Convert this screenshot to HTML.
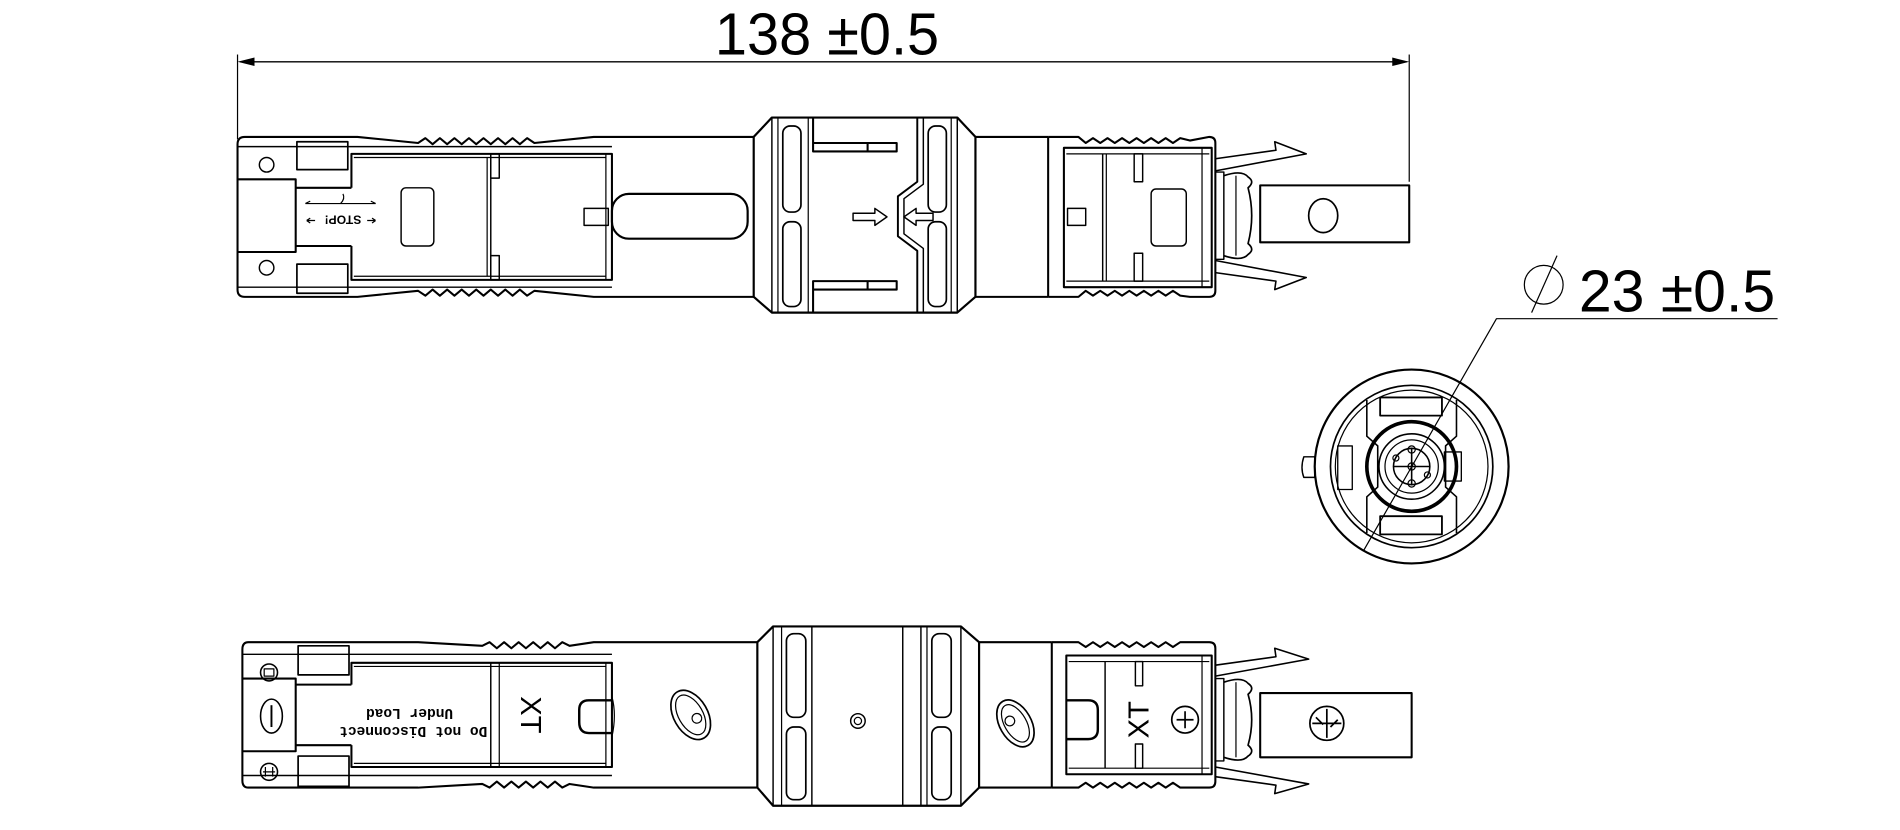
<!DOCTYPE html>
<html><head><meta charset="utf-8"><style>
html,body{margin:0;padding:0;background:#fff;}
svg{display:block;}
</style></head><body>
<svg width="1900" height="830" viewBox="0 0 1568 685" xmlns="http://www.w3.org/2000/svg">
<g fill="none" stroke="#000" stroke-width="1.7" stroke-linejoin="round">

<line x1="196" y1="45" x2="196" y2="115" stroke-width="1"/>
<line x1="1163" y1="45" x2="1163" y2="150" stroke-width="1"/>
<line x1="198" y1="51" x2="1161" y2="51" stroke-width="1.2"/>
<path d="M196,51 L210,47.5 L210,54.5 Z M1163,51 L1149,47.5 L1149,54.5 Z" fill="#000" stroke="none"/>

<!-- TOP VIEW -->
<path d="M622,113 H490 L441,118 L435,114 L429,119 L423,114 L417,119 L411,114 L405,119 L399,114 L393,119 L387,114 L381,119 L375,114 L369,119 L363,114 L357,119 L351,114 L345,118 L295,113 H202 Q196,113 196,119 V239 Q196,245 202,245 H295 L345,240 L351,244 L357,239 L363,244 L369,239 L375,244 L381,239 L387,244 L393,239 L399,244 L405,239 L411,244 L417,239 L423,244 L429,239 L435,244 L441,240 L490,245 H622"/>
<line x1="196" y1="121" x2="505" y2="121" stroke-width="1.2"/>
<line x1="196" y1="237" x2="505" y2="237" stroke-width="1.2"/>
<path d="M290,155 V127 H505 V231 H290 V203"/>
<line x1="292" y1="130" x2="500" y2="130" stroke-width="1"/>
<line x1="292" y1="228" x2="500" y2="228" stroke-width="1"/>
<line x1="500" y1="127" x2="500" y2="231" stroke-width="1"/>
<line x1="405" y1="127" x2="405" y2="231" stroke-width="1.2"/>
<line x1="402" y1="130" x2="402" y2="228" stroke-width="1"/>
<rect x="405" y="127" width="7" height="20" stroke-width="1.2"/>
<rect x="405" y="211" width="7" height="20" stroke-width="1.2"/>
<path d="M196,148 H244 V208 H196"/>
<path d="M244,155 H290 M244,203 H290"/>
<rect x="245" y="117" width="42" height="23" stroke-width="1.4"/>
<rect x="245" y="218" width="42" height="24" stroke-width="1.4"/>
<circle cx="220" cy="136" r="6" stroke-width="1.2"/>
<circle cx="220" cy="221" r="6" stroke-width="1.2"/>
<rect x="331" y="155" width="27" height="48" rx="4" stroke-width="1.2"/>
<rect x="482" y="172" width="20" height="14" stroke-width="1.2"/>
<rect x="505" y="160" width="112" height="37" rx="14" stroke-width="1.8"/>
<g stroke-width="1">
<path d="M252,168 H310 M252,168 l4,-2 M310,168 l-4,-2 M281,168 q4,-4 2,-8"/>
<path d="M253,182 h7 M253,182 l3,-2 M253,182 l3,2 M303,182 h7 M310,182 l-3,-2 M310,182 l-3,2"/>
</g>
<text x="0" y="0" transform="translate(283,178) rotate(180)" font-family="Liberation Sans, sans-serif" font-size="10" font-weight="bold" fill="#000" stroke="none" text-anchor="middle">STOP!</text>

<path d="M622,113 L637,97 H790 L805,113 V245 L790,258 H637 L622,245 Z" stroke-width="1.8"/>
<line x1="637" y1="97" x2="637" y2="258" stroke-width="1.2"/>
<line x1="790" y1="97" x2="790" y2="258" stroke-width="1.2"/>
<line x1="667" y1="97" x2="667" y2="258" stroke-width="1"/>
<line x1="642" y1="97" x2="642" y2="258" stroke-width="1"/>
<line x1="785" y1="97" x2="785" y2="258" stroke-width="1"/>
<rect x="646" y="104" width="15" height="71" rx="6" stroke-width="1.4"/>
<rect x="646" y="183" width="15" height="70" rx="6" stroke-width="1.4"/>
<rect x="766" y="104" width="15" height="71" rx="6" stroke-width="1.4"/>
<rect x="766" y="183" width="15" height="70" rx="6" stroke-width="1.4"/>
<path d="M757,97 V150 L741,162 V195 L757,207 V258" stroke-width="1.6"/>
<path d="M762,97 V152 L746,164 V193 L762,205 V258" stroke-width="1.2"/>
<path d="M671,97 V125 H740 V118 H716 V125 M671,118 H716"/>
<path d="M671,258 V232 H740 V239 H716 V232 M671,239 H716"/>
<path d="M704,176 H722 V172 L732,179 L722,186 V182 H704 Z" stroke-width="1.2"/>
<path d="M770,176 H756 V172 L746,179 L756,186 V182 H770 Z" stroke-width="1.2"/>

<path d="M805,113 H865 M805,245 H865"/>
<line x1="865" y1="113" x2="865" y2="245"/>
<path d="M865,113 H890 L896,118 L902,114 L908,118 L914,114 L920,118 L926,114 L932,118 L938,114 L944,118 L950,114 L956,118 L962,114 L968,118 L974,114 L982,116 L998,113 Q1003,113 1003,118 V240 Q1003,245 998,245 H982 L974,244 L968,240 L962,244 L956,240 L950,244 L944,240 L938,244 L932,240 L926,244 L920,240 L914,244 L908,240 L902,244 L896,240 L890,245 H865"/>
<rect x="878" y="122" width="122" height="115"/>
<line x1="880" y1="127" x2="998" y2="127" stroke-width="1"/>
<line x1="880" y1="232" x2="998" y2="232" stroke-width="1"/>
<line x1="992" y1="122" x2="992" y2="237" stroke-width="1"/>
<line x1="910" y1="127" x2="910" y2="232" stroke-width="1.2"/>
<line x1="913" y1="127" x2="913" y2="232" stroke-width="1"/>
<rect x="936" y="127" width="7" height="23" stroke-width="1.2"/>
<rect x="936" y="209" width="7" height="23" stroke-width="1.2"/>
<rect x="950" y="156" width="29" height="47" rx="4" stroke-width="1.2"/>
<rect x="881" y="172" width="15" height="14" stroke-width="1.2"/>
<path d="M1003,142 H1010 V214 H1003" stroke-width="1.2"/>
<path d="M1010,145 Q1025,140 1030,146 Q1036,150 1030,155 Q1036,178 1030,201 Q1036,206 1030,210 Q1025,216 1010,211" stroke-width="1.4"/>
<line x1="1020" y1="145" x2="1020" y2="211" stroke-width="1"/>
<rect x="1040" y="153" width="123" height="47"/>
<ellipse cx="1092" cy="178" rx="12" ry="14" stroke-width="1.4"/>
<path d="M1003,131 L1053,124 L1052,117 L1078,127 L1003,141" stroke-width="1.3"/>
<path d="M1003,225 L1053,232 L1052,239 L1078,229 L1003,215" stroke-width="1.3"/>

<!-- END VIEW -->
<circle cx="1165" cy="385" r="80" stroke-width="1.8"/>
<circle cx="1165" cy="385" r="67" stroke-width="1.4"/>
<circle cx="1165" cy="385" r="63" stroke-width="1"/>
<path d="M1128,330 V360 L1137,368 V402 L1128,410 V440" stroke-width="1.3"/>
<path d="M1202,330 V360 L1193,368 V402 L1202,410 V440" stroke-width="1.3"/>
<rect x="1139" y="328" width="51" height="15" stroke-width="1.5"/>
<rect x="1139" y="426" width="51" height="15" stroke-width="1.5"/>
<rect x="1104" y="368" width="12" height="36" stroke-width="1.1"/>
<rect x="1192" y="373" width="14" height="24" stroke-width="1.1"/>
<path d="M1076,377 h9 v17 h-9 q-3,-8 0,-17 Z" stroke-width="1.2"/>
<circle cx="1165" cy="385" r="37" stroke-width="3"/>
<circle cx="1165" cy="385" r="27" stroke-width="1.3"/>
<circle cx="1165" cy="385" r="22" stroke-width="1"/>
<circle cx="1165" cy="385" r="15" stroke-width="1.3"/>
<path d="M1150,385 H1180 M1165,370 V400" stroke-width="1.3"/>
<circle cx="1165" cy="385" r="3" stroke-width="1"/>
<circle cx="1165" cy="371" r="3" stroke-width="1"/>
<circle cx="1165" cy="399" r="3" stroke-width="1"/>
<circle cx="1152" cy="378" r="2.5" stroke-width="1"/>
<circle cx="1178" cy="392" r="2.5" stroke-width="1"/>
<path d="M1125,455 L1235,263 H1467" stroke-width="1"/>
<circle cx="1274" cy="235" r="16" stroke-width="1"/>
<line x1="1285" y1="211" x2="1264" y2="258" stroke-width="1"/>
<text x="1303" y="257" font-family="Liberation Sans, sans-serif" font-size="49" fill="#000" stroke="none" textLength="162" lengthAdjust="spacingAndGlyphs">23 ±0.5</text>
<text x="590" y="45" font-family="Liberation Sans, sans-serif" font-size="49" fill="#000" stroke="none" textLength="185" lengthAdjust="spacingAndGlyphs">138 ±0.5</text>

<!-- BOTTOM VIEW -->
<path d="M625,530 H490 L470,533 L464,530 L458,535 L452,530 L446,535 L440,530 L434,535 L428,530 L422,535 L416,530 L410,535 L404,530 L398,533 L345,530 H205 Q200,530 200,536 V644 Q200,650 205,650 H345 L398,647 L404,650 L410,645 L416,650 L422,645 L428,650 L434,645 L440,650 L446,645 L452,650 L458,645 L464,650 L470,647 L490,650 H625"/>
<line x1="200" y1="540" x2="505" y2="540" stroke-width="1.2"/>
<line x1="200" y1="640" x2="505" y2="640" stroke-width="1.2"/>
<path d="M290,565 V547 H505 V633 H290 V615"/>
<line x1="292" y1="550" x2="500" y2="550" stroke-width="1"/>
<line x1="292" y1="630" x2="500" y2="630" stroke-width="1"/>
<line x1="500" y1="547" x2="500" y2="633" stroke-width="1"/>
<line x1="405" y1="547" x2="405" y2="633" stroke-width="1.2"/>
<line x1="412" y1="547" x2="412" y2="633" stroke-width="1"/>
<path d="M200,560 H244 V620 H200 M244,565 H290 M244,615 H290"/>
<rect x="246" y="533" width="42" height="24" stroke-width="1.4"/>
<rect x="246" y="624" width="42" height="25" stroke-width="1.4"/>
<circle cx="222" cy="555" r="7" stroke-width="1.3"/>
<path d="M218,552 h8 v6 h-8 z" stroke-width="1"/>
<ellipse cx="224" cy="591" rx="9" ry="14" stroke-width="1.3"/>
<line x1="224" y1="582" x2="224" y2="600" stroke-width="1.6"/>
<circle cx="222" cy="637" r="7" stroke-width="1.3"/>
<path d="M217,637 h10 M219,633 v8 M225,633 v8" stroke-width="1"/>
<g font-family="Liberation Mono, monospace" font-size="12" font-weight="bold" fill="#000" stroke="none" text-anchor="middle">
<text transform="translate(341,600) rotate(180)">Do not Disconnect</text>
<text transform="translate(338,585) rotate(180)">Under  Load</text>
</g>
<text transform="translate(430,590) rotate(90)" font-family="Liberation Sans, sans-serif" font-size="24" fill="#000" stroke="none" text-anchor="middle">XT</text>
<path d="M505,578 H486 Q478,578 478,586 V596 Q478,605 486,605 H505" stroke-width="2"/>
<path d="M505,575 q4,15 0,33" stroke-width="1"/>
<g transform="translate(570,590) rotate(-30)">
<ellipse cx="0" cy="0" rx="14" ry="22" stroke-width="1.4"/>
<ellipse cx="0" cy="0" rx="10" ry="18" stroke-width="1"/>
<circle cx="3" cy="5" r="4" stroke-width="1"/>
</g>
<path d="M625,530 L638,517 H793 L808,530 V650 L793,665 H638 L625,650 Z" stroke-width="1.8"/>
<line x1="638" y1="517" x2="638" y2="665" stroke-width="1.2"/>
<line x1="645" y1="517" x2="645" y2="665" stroke-width="1"/>
<line x1="670" y1="517" x2="670" y2="665" stroke-width="1.2"/>
<line x1="745" y1="517" x2="745" y2="665" stroke-width="1.2"/>
<line x1="760" y1="517" x2="760" y2="665" stroke-width="1.2"/>
<line x1="765" y1="517" x2="765" y2="665" stroke-width="1"/>
<line x1="793" y1="517" x2="793" y2="665" stroke-width="1.2"/>
<rect x="649" y="523" width="16" height="69" rx="6" stroke-width="1.4"/>
<rect x="649" y="600" width="16" height="60" rx="6" stroke-width="1.4"/>
<rect x="769" y="523" width="16" height="69" rx="6" stroke-width="1.4"/>
<rect x="769" y="600" width="16" height="60" rx="6" stroke-width="1.4"/>
<circle cx="708" cy="595" r="6" stroke-width="1.2"/>
<circle cx="708" cy="595" r="3" stroke-width="1"/>
<path d="M808,530 H868 M808,650 H868"/>
<line x1="868" y1="530" x2="868" y2="650"/>
<g transform="translate(838,597) rotate(-30)">
<ellipse cx="0" cy="0" rx="13" ry="21" stroke-width="1.4"/>
<ellipse cx="0" cy="0" rx="9" ry="17" stroke-width="1"/>
<circle cx="-3" cy="-4" r="4" stroke-width="1"/>
</g>
<path d="M868,530 H890 L896,534 L902,530 L908,534 L914,530 L920,534 L926,530 L932,534 L938,530 L944,534 L950,530 L956,534 L962,530 L968,534 L974,530 L998,530 Q1003,530 1003,535 V645 Q1003,650 998,650 H974 L968,646 L962,650 L956,646 L950,650 L944,646 L938,650 L932,646 L926,650 L920,646 L914,650 L908,646 L902,650 L896,646 L890,650 H868"/>
<rect x="880" y="541" width="120" height="98"/>
<line x1="882" y1="546" x2="998" y2="546" stroke-width="1"/>
<line x1="882" y1="634" x2="998" y2="634" stroke-width="1"/>
<line x1="992" y1="541" x2="992" y2="639" stroke-width="1"/>
<line x1="912" y1="546" x2="912" y2="634" stroke-width="1.2"/>
<rect x="937" y="546" width="6" height="20" stroke-width="1.2"/>
<rect x="937" y="614" width="6" height="20" stroke-width="1.2"/>
<path d="M880,578 H898 Q906,578 906,586 V602 Q906,610 898,610 H880" stroke-width="2"/>
<text transform="translate(948,594) rotate(-90)" font-family="Liberation Sans, sans-serif" font-size="24" fill="#000" stroke="none" text-anchor="middle">XT</text>
<circle cx="978" cy="594" r="11" stroke-width="1.4"/>
<path d="M971,594 H985 M978,587 V601" stroke-width="1.4"/>
<path d="M1003,560 H1010 V628 H1003" stroke-width="1.2"/>
<path d="M1010,563 Q1025,558 1030,564 Q1036,568 1030,573 Q1036,594 1030,615 Q1036,620 1030,624 Q1025,630 1010,625" stroke-width="1.4"/>
<line x1="1020" y1="563" x2="1020" y2="625" stroke-width="1"/>
<rect x="1040" y="572" width="125" height="53"/>
<circle cx="1095" cy="597" r="14" stroke-width="1.4"/>
<path d="M1083,597 H1107 M1095,585 V609 M1086,592 l6,6 M1098,600 l6,-6" stroke-width="1.4"/>
<path d="M1003,549 L1053,542 L1052,535 L1080,544 L1003,558" stroke-width="1.3"/>
<path d="M1003,641 L1053,648 L1052,655 L1080,647 L1003,633" stroke-width="1.3"/>
</g>
</svg>
</body></html>
